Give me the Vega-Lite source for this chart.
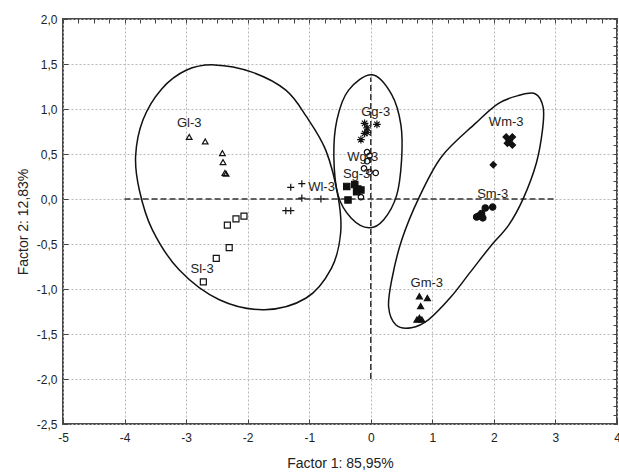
{
  "$schema": "https://vega.github.io/schema/vega-lite/v6.json",
  "autosize": "none",
  "width": 554,
  "height": 405,
  "padding": {"left": 63, "top": 19, "right": 2, "bottom": 49},
  "background": "white",
  "config": {
    "view": {"stroke": "#4a4a4a", "strokeWidth": 2},
    "font": "Liberation Sans",
    "axis": {"labelFont": "Liberation Sans", "titleFont": "Liberation Sans", "labelColor": "#222", "titleColor": "#222", "labelFontSize": 12, "titleFontSize": 14, "titleFontWeight": "normal", "domain": false, "tickColor": "#444", "gridColor": "#b8b8b8", "gridDash": [2, 2], "gridWidth": 1}
  },
  "datasets": {
    "points": [
      {"g": "Gl-3", "x": -2.95, "y": 0.69}, {"g": "Gl-3", "x": -2.69, "y": 0.64}, {"g": "Gl-3", "x": -2.41, "y": 0.51}, {"g": "Gl-3", "x": -2.40, "y": 0.41}, {"g": "Gl-3", "x": -2.37, "y": 0.29}, {"g": "Gl-3", "x": -2.35, "y": 0.28},
      {"g": "Sl-3", "x": -2.06, "y": -0.19}, {"g": "Sl-3", "x": -2.19, "y": -0.22}, {"g": "Sl-3", "x": -2.33, "y": -0.29}, {"g": "Sl-3", "x": -2.30, "y": -0.54}, {"g": "Sl-3", "x": -2.51, "y": -0.66}, {"g": "Sl-3", "x": -2.72, "y": -0.92},
      {"g": "Wl-3", "x": -1.30, "y": 0.13}, {"g": "Wl-3", "x": -1.12, "y": 0.17}, {"g": "Wl-3", "x": -1.12, "y": 0.01}, {"g": "Wl-3", "x": -0.81, "y": 0.0}, {"g": "Wl-3", "x": -1.38, "y": -0.13}, {"g": "Wl-3", "x": -1.30, "y": -0.13},
      {"g": "Gg-3", "x": -0.10, "y": 0.84}, {"g": "Gg-3", "x": 0.10, "y": 0.83}, {"g": "Gg-3", "x": -0.06, "y": 0.79}, {"g": "Gg-3", "x": -0.10, "y": 0.73}, {"g": "Gg-3", "x": -0.06, "y": 0.74}, {"g": "Gg-3", "x": -0.16, "y": 0.66},
      {"g": "Wg-3", "x": -0.06, "y": 0.52}, {"g": "Wg-3", "x": -0.02, "y": 0.48}, {"g": "Wg-3", "x": -0.06, "y": 0.42}, {"g": "Wg-3", "x": -0.11, "y": 0.34}, {"g": "Wg-3", "x": -0.02, "y": 0.30}, {"g": "Wg-3", "x": 0.08, "y": 0.29}, {"g": "Wg-3", "x": -0.16, "y": 0.02},
      {"g": "Sg-3", "x": -0.39, "y": 0.14}, {"g": "Sg-3", "x": -0.26, "y": 0.16}, {"g": "Sg-3", "x": -0.21, "y": 0.11}, {"g": "Sg-3", "x": -0.16, "y": 0.10}, {"g": "Sg-3", "x": -0.23, "y": 0.08}, {"g": "Sg-3", "x": -0.37, "y": -0.01},
      {"g": "Gm-3", "x": 0.79, "y": -1.08}, {"g": "Gm-3", "x": 0.92, "y": -1.10}, {"g": "Gm-3", "x": 0.81, "y": -1.19}, {"g": "Gm-3", "x": 0.75, "y": -1.34}, {"g": "Gm-3", "x": 0.79, "y": -1.32}, {"g": "Gm-3", "x": 0.83, "y": -1.34},
      {"g": "Sm-3", "x": 1.98, "y": -0.09}, {"g": "Sm-3", "x": 1.86, "y": -0.10}, {"g": "Sm-3", "x": 1.80, "y": -0.16}, {"g": "Sm-3", "x": 1.75, "y": -0.19}, {"g": "Sm-3", "x": 1.72, "y": -0.20}, {"g": "Sm-3", "x": 1.82, "y": -0.21},
      {"g": "Wm-3", "x": 2.20, "y": 0.69}, {"g": "Wm-3", "x": 2.30, "y": 0.69}, {"g": "Wm-3", "x": 2.25, "y": 0.65}, {"g": "Wm-3", "x": 2.22, "y": 0.62}, {"g": "Wm-3", "x": 2.30, "y": 0.60}, {"g": "Wm-3", "x": 1.99, "y": 0.38}
    ],
    "ellipses": [
      {"e": "l", "i": 1, "x": -2.54, "y": 1.49}, {"e": "l", "i": 2, "x": -1.93, "y": 1.41}, {"e": "l", "i": 3, "x": -1.38, "y": 1.21}, {"e": "l", "i": 4, "x": -1.05, "y": 0.92}, {"e": "l", "i": 5, "x": -0.73, "y": 0.54}, {"e": "l", "i": 6, "x": -0.53, "y": 0.02}, {"e": "l", "i": 7, "x": -0.49, "y": -0.38}, {"e": "l", "i": 8, "x": -0.64, "y": -0.77}, {"e": "l", "i": 9, "x": -1.05, "y": -1.10}, {"e": "l", "i": 10, "x": -1.73, "y": -1.23}, {"e": "l", "i": 11, "x": -2.46, "y": -1.12}, {"e": "l", "i": 12, "x": -3.11, "y": -0.79}, {"e": "l", "i": 13, "x": -3.55, "y": -0.34}, {"e": "l", "i": 14, "x": -3.76, "y": 0.10}, {"e": "l", "i": 15, "x": -3.82, "y": 0.48}, {"e": "l", "i": 16, "x": -3.70, "y": 0.88}, {"e": "l", "i": 17, "x": -3.40, "y": 1.22}, {"e": "l", "i": 18, "x": -3.00, "y": 1.43},
      {"e": "g", "i": 1, "x": 0.02, "y": 1.38}, {"e": "g", "i": 2, "x": 0.34, "y": 1.16}, {"e": "g", "i": 3, "x": 0.49, "y": 0.82}, {"e": "g", "i": 4, "x": 0.50, "y": 0.43}, {"e": "g", "i": 5, "x": 0.42, "y": 0.04}, {"e": "g", "i": 6, "x": 0.21, "y": -0.23}, {"e": "g", "i": 7, "x": -0.03, "y": -0.32}, {"e": "g", "i": 8, "x": -0.32, "y": -0.21}, {"e": "g", "i": 9, "x": -0.53, "y": 0.04}, {"e": "g", "i": 10, "x": -0.60, "y": 0.47}, {"e": "g", "i": 11, "x": -0.55, "y": 0.88}, {"e": "g", "i": 12, "x": -0.36, "y": 1.21},
      {"e": "m", "i": 1, "x": 2.67, "y": 1.17}, {"e": "m", "i": 2, "x": 2.80, "y": 1.02}, {"e": "m", "i": 3, "x": 2.79, "y": 0.77}, {"e": "m", "i": 4, "x": 2.69, "y": 0.40}, {"e": "m", "i": 5, "x": 2.48, "y": 0.01}, {"e": "m", "i": 6, "x": 2.24, "y": -0.29}, {"e": "m", "i": 7, "x": 1.94, "y": -0.53}, {"e": "m", "i": 8, "x": 1.62, "y": -0.81}, {"e": "m", "i": 9, "x": 1.30, "y": -1.09}, {"e": "m", "i": 10, "x": 0.94, "y": -1.34}, {"e": "m", "i": 11, "x": 0.66, "y": -1.43}, {"e": "m", "i": 12, "x": 0.41, "y": -1.40}, {"e": "m", "i": 13, "x": 0.29, "y": -1.20}, {"e": "m", "i": 14, "x": 0.34, "y": -0.90}, {"e": "m", "i": 15, "x": 0.50, "y": -0.46}, {"e": "m", "i": 16, "x": 0.78, "y": 0.01}, {"e": "m", "i": 17, "x": 1.15, "y": 0.47}, {"e": "m", "i": 18, "x": 1.70, "y": 0.84}, {"e": "m", "i": 19, "x": 2.07, "y": 1.06}, {"e": "m", "i": 20, "x": 2.40, "y": 1.15}
    ],
    "labels": [
      {"t": "Gl-3", "x": -2.95, "y": 0.84}, {"t": "Sl-3", "x": -2.74, "y": -0.78}, {"t": "Wl-3", "x": -0.80, "y": 0.13},
      {"t": "Gg-3", "x": 0.08, "y": 0.97}, {"t": "Wg-3", "x": -0.13, "y": 0.47}, {"t": "Sg-3", "x": -0.23, "y": 0.28},
      {"t": "Wm-3", "x": 2.20, "y": 0.86}, {"t": "Sm-3", "x": 1.98, "y": 0.06}, {"t": "Gm-3", "x": 0.91, "y": -0.93}
    ],
    "rules": [
      {"x": -4, "x2": 3, "y": 0, "y2": 0},
      {"x": 0, "x2": 0, "y": -2.0, "y2": 1.35}
    ]
  },
  "resolve": {"axis": {"x": "independent", "y": "independent"}},
  "layer": [
    {
      "layer": [
        {
          "data": {"name": "rules"},
          "mark": {"type": "rule", "strokeDash": [6, 3], "strokeWidth": 1.5, "color": "#333"},
          "encoding": {
            "x": {"field": "x", "type": "quantitative", "scale": {"domain": [-5, 4], "nice": false, "zero": false},
              "axis": {"orient": "bottom", "title": "Factor 1: 85,95%", "titlePadding": 13,
                "values": [-5, -4, -3, -2, -1, 0, 1, 2, 3, 4],
                "labelExpr": "toString(datum.value)",
                "labelFlush": false, "labelOverlap": false,
                "tickSize": -5, "labelPadding": 13, "grid": true}},
            "x2": {"field": "x2"},
            "y": {"field": "y", "type": "quantitative", "scale": {"domain": [-2.5, 2.0], "nice": false, "zero": false},
              "axis": {"orient": "left", "title": "Factor 2: 12,83%", "titlePadding": 6,
                "values": [-2.5, -2.0, -1.5, -1.0, -0.5, 0, 0.5, 1.0, 1.5, 2.0],
                "labelExpr": "replace(replace(format(datum.value, '.1f'), '.', ','), '\u2212', '-')",
                "labelOverlap": false, "labelFlush": false,
                "tickSize": -5, "labelPadding": 11, "grid": true}},
            "y2": {"field": "y2"}
          }
        },
        {
          "data": {"name": "ellipses"},
          "mark": {"type": "line", "interpolate": "cardinal-closed", "strokeWidth": 1.5, "color": "#111"},
          "encoding": {
            "x": {"field": "x", "type": "quantitative"},
            "y": {"field": "y", "type": "quantitative"},
            "detail": {"field": "e"},
            "order": {"field": "i", "type": "quantitative"}
          }
        },
        {
          "data": {"name": "points"},
          "mark": {"type": "point", "strokeWidth": 1.2, "opacity": 1},
          "encoding": {
            "x": {"field": "x", "type": "quantitative"},
            "y": {"field": "y", "type": "quantitative"},
            "shape": {"field": "g", "type": "nominal", "legend": null,
              "scale": {"domain": ["Gl-3", "Sl-3", "Wl-3", "Gg-3", "Wg-3", "Sg-3", "Gm-3", "Sm-3", "Wm-3"],
                "range": ["triangle-up", "square", "M-1,0L1,0M0,-1L0,1", "M-1,0L1,0M0,-1L0,1M-0.7,-0.7L0.7,0.7M-0.7,0.7L0.7,-0.7", "circle", "square", "triangle-up", "circle", "diamond"]}},
            "fill": {"field": "g", "type": "nominal", "legend": null,
              "scale": {"domain": ["Gl-3", "Sl-3", "Wl-3", "Gg-3", "Wg-3", "Sg-3", "Gm-3", "Sm-3", "Wm-3"],
                "range": ["transparent", "transparent", "transparent", "transparent", "transparent", "#111", "#111", "#111", "#111"]}},
            "size": {"field": "g", "type": "nominal", "legend": null,
              "scale": {"type": "ordinal", "domain": ["Gl-3", "Sl-3", "Wl-3", "Gg-3", "Wg-3", "Sg-3", "Gm-3", "Sm-3", "Wm-3"],
                "range": [32, 36, 50, 60, 30, 40, 36, 40, 40]}},
            "stroke": {"value": "#111"}
          }
        },
        {
          "data": {"name": "labels"},
          "mark": {"type": "text", "fontSize": 13, "font": "Liberation Sans", "color": "#222"},
          "encoding": {
            "x": {"field": "x", "type": "quantitative"},
            "y": {"field": "y", "type": "quantitative"},
            "text": {"field": "t"}
          }
        }
      ]
    },
    {
      "data": {"name": "labels"},
      "mark": {"type": "point", "opacity": 0},
      "encoding": {
        "x": {"field": "x", "type": "quantitative",
          "axis": {"orient": "top", "title": null, "labels": false, "grid": false, "tickSize": -4,
            "values": [-5, -4.75, -4.5, -4.25, -4, -3.75, -3.5, -3.25, -3, -2.75, -2.5, -2.25, -2, -1.75, -1.5, -1.25, -1, -0.75, -0.5, -0.25, 0, 0.25, 0.5, 0.75, 1, 1.25, 1.5, 1.75, 2, 2.25, 2.5, 2.75, 3, 3.25, 3.5, 3.75, 4]}},
        "y": {"field": "y", "type": "quantitative",
          "axis": {"orient": "right", "title": null, "labels": false, "grid": false, "tickSize": -4,
            "values": [-2.5, -2.4, -2.3, -2.2, -2.1, -2.0, -1.9, -1.8, -1.7, -1.6, -1.5, -1.4, -1.3, -1.2, -1.1, -1.0, -0.9, -0.8, -0.7, -0.6, -0.5, -0.4, -0.3, -0.2, -0.1, 0, 0.1, 0.2, 0.3, 0.4, 0.5, 0.6, 0.7, 0.8, 0.9, 1.0, 1.1, 1.2, 1.3, 1.4, 1.5, 1.6, 1.7, 1.8, 1.9, 2.0]}}
      }
    }
  ]
}
